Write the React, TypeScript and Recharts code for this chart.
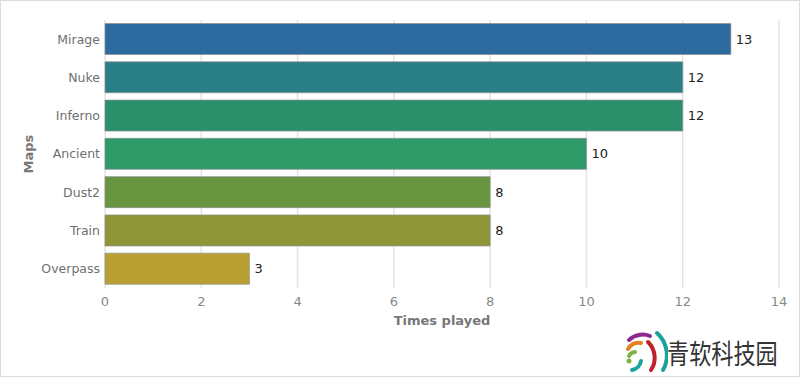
import { BarChart, Bar, XAxis, YAxis, CartesianGrid, Cell, LabelList, Label } from 'recharts'

const maps = ['Mirage', 'Nuke', 'Inferno', 'Ancient', 'Dust2', 'Train', 'Overpass']
const timesPlayed = [13, 12, 12, 10, 8, 8, 3]
const barColors = ['#2c6aa0', '#2a7f87', '#2b8f6c', '#2e9a68', '#689540', '#8f9638', '#baa032']
const xTicks = [0, 2, 4, 6, 8, 10, 12, 14]

const data = maps.map((name, i) => ({ name, value: timesPlayed[i] }))

const font = '"DejaVu Sans", Verdana, sans-serif'

// watermark in the bottom right corner
function Watermark() {
  return (
    <div style={{ position: 'absolute', left: 623, top: 329, width: 170, height: 45 }}>
      <svg width={44} height={44} style={{ position: 'absolute', left: 0, top: 0 }}>
        <path d="M5 10 A20 20 0 0 1 26 6" stroke="#8e2a8f" strokeWidth={4} fill="none" strokeLinecap="round" />
        <path d="M4 19 A13 13 0 0 1 17 13" stroke="#e67e22" strokeWidth={4} fill="none" strokeLinecap="round" />
        <path d="M5 26 A7 7 0 0 1 11 22" stroke="#7cb342" strokeWidth={4} fill="none" strokeLinecap="round" />
        <circle cx={5} cy={31} r={2.5} fill="#7cb342" />
        <path d="M8 40 A11 11 0 0 0 17 31" stroke="#1aa39a" strokeWidth={4} fill="none" strokeLinecap="round" />
        <path d="M24 12 A22 22 0 0 1 27 40" stroke="#c0202c" strokeWidth={4} fill="none" strokeLinecap="round" />
        <path d="M33 3 A30 30 0 0 1 39 40" stroke="#1aa39a" strokeWidth={4} fill="none" strokeLinecap="round" />
      </svg>
      <div
        style={{
          position: 'absolute',
          left: 43,
          top: 6,
          fontFamily: '"Noto Sans CJK SC", sans-serif',
          fontSize: 27,
          color: '#333',
          lineHeight: '34px',
          transform: 'scaleX(0.82)',
          transformOrigin: 'left center',
          whiteSpace: 'nowrap',
        }}
      >
        青软科技园
      </div>
    </div>
  )
}

export default function App() {
  return (
    <div
      style={{
        position: 'absolute',
        left: 0,
        top: 0,
        width: 798,
        height: 375,
        border: '1px solid #dcdcdc',
        background: '#fff',
        fontFamily: font,
      }}
    >
      <BarChart
        width={798}
        height={375}
        data={data}
        layout="vertical"
        margin={{ top: 19, right: 20, bottom: 38, left: 20 }}
        barCategoryGap={3.5}
      >
        <CartesianGrid horizontal={false} stroke="#e4e4e4" strokeWidth={1.5} />
        <XAxis
          type="number"
          domain={[0, 14]}
          ticks={xTicks}
          axisLine={false}
          tickLine={false}
          tickSize={0}
          tick={{ fill: '#888', fontSize: 13, fontFamily: font }}
          tickMargin={9}
          height={50}
        >
          <Label
            value="Times played"
            position="insideTop"
            offset={28}
            style={{ fill: '#777', fontSize: 13, fontWeight: 'bold', fontFamily: font }}
          />
        </XAxis>
        <YAxis
          type="category"
          dataKey="name"
          width={84}
          axisLine={false}
          tickLine={false}
          tickSize={0}
          tickMargin={5}
          tick={{ fill: '#6f6f6f', fontSize: 12.5, fontFamily: font }}
        >
          <Label
            value="Maps"
            angle={-90}
            position="insideLeft"
            offset={7}
            style={{ fill: '#777', fontSize: 13, fontWeight: 'bold', fontFamily: font, textAnchor: 'middle' }}
          />
        </YAxis>
        <Bar dataKey="value" stroke="#8f8f8f" strokeOpacity={0.7} strokeWidth={1} isAnimationActive={false}>
          {data.map((d, i) => (
            <Cell key={d.name} fill={barColors[i]} />
          ))}
          <LabelList
            dataKey="value"
            position="right"
            offset={5}
            style={{ fill: '#222', fontSize: 13, fontFamily: font }}
          />
        </Bar>
      </BarChart>
      <Watermark />
    </div>
  )
}
